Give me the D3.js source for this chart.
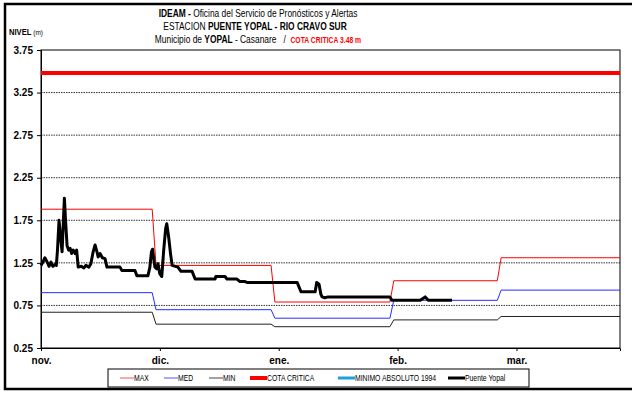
<!DOCTYPE html>
<html><head><meta charset="utf-8">
<script src="https://cdn.jsdelivr.net/npm/d3@7"></script>
<style>body{margin:0;background:#fff}svg{display:block}text{white-space:pre}</style>
</head><body><svg width="632" height="394"></svg>
<script>
// Eje X: días desde el 1 de noviembre; marcas cada 31 días
const tickDias = [0, 31, 62, 93, 124];
const tickMeses = ["nov.", "dic.", "ene.", "feb.", "mar."];
const yTicks = [0.25, 0.75, 1.25, 1.75, 2.25, 2.75, 3.25, 3.75];

// Niveles mensuales históricos (nov–mar)
const inicioMes = [0, 30, 61, 92, 120];
const finMes = [29, 60, 91, 119, 151];
const nivelMax = [1.88, 1.22, 0.79, 1.04, 1.31];
const nivelMed = [0.90, 0.70, 0.60, 0.81, 0.93];
const nivelMin = [0.67, 0.53, 0.50, 0.58, 0.62];
const cotaCritica = 3.48;

// Lecturas de la estación Puente Yopal
const diasYopal = [0.0,0.5,1.0,1.6,2.1,2.6,3.1,3.6,4.0,4.3,4.7,5.0,5.5,5.8,6.1,6.4,6.8,7.2,7.6,8.0,8.4,8.9,9.3,9.7,10.5,11.2,11.7,12.5,13.0,13.6,14.1,14.6,14.9,15.4,16.0,16.7,17.2,20.6,21.1,24.5,25.0,27.9,28.4,28.8,29.1,29.4,29.7,30.2,30.5,31.0,31.5,32.0,32.5,32.8,33.3,33.8,34.2,35.7,36.5,39.4,40.2,45.4,45.6,48.0,48.5,51.1,51.9,53.2,53.7,66.8,67.8,71.5,71.9,72.5,73.0,73.3,74.0,74.9,91.0,91.5,98.9,100.2,101.0,107.2];
const nivelYopal = [1.22,1.26,1.31,1.26,1.21,1.26,1.21,1.23,1.22,1.40,1.75,1.60,1.38,1.70,2.01,1.75,1.45,1.40,1.42,1.36,1.40,1.36,1.40,1.20,1.21,1.19,1.22,1.20,1.24,1.38,1.46,1.38,1.32,1.36,1.31,1.30,1.20,1.20,1.16,1.16,1.10,1.10,1.20,1.38,1.41,1.30,1.20,1.18,1.24,1.12,1.09,1.40,1.65,1.71,1.55,1.35,1.22,1.20,1.15,1.15,1.06,1.06,1.09,1.09,1.06,1.06,1.03,1.03,1.02,1.02,0.91,0.91,1.02,1.00,0.88,0.85,0.84,0.85,0.85,0.81,0.81,0.85,0.81,0.81];

const svg = d3.select("svg");
const FONT = "'Liberation Sans', Arial, sans-serif";

const L = 41, R = 620, T = 50, B = 348;
const x = d3.scaleLinear().domain([0, 151]).range([L, R]);
const y = d3.scaleLinear().domain([0.25, 3.75]).range([B, T]);

// Texto condensado horizontalmente (estilo Arial Narrow)
function texto(px, py, k, size, anchor) {
  return svg.append("text")
    .attr("transform", `translate(${px},${py}) scale(${k},1)`)
    .attr("text-anchor", anchor || "start")
    .attr("font-family", FONT).attr("font-size", size);
}

// Marco exterior
svg.append("rect").attr("x", 5).attr("y", 4).attr("width", 700).attr("height", 385)
  .attr("fill", "none").attr("stroke", "#000").attr("stroke-width", 2.5);

// Rejilla punteada
svg.append("g").selectAll("line").data(yTicks.slice(1, -1)).join("line")
  .attr("x1", L).attr("x2", R).attr("y1", d => y(d)).attr("y2", d => y(d))
  .attr("stroke", "#333").attr("stroke-width", 1).attr("stroke-dasharray", "1.5,1");

// Borde del área de trazado
svg.append("rect").attr("x", L).attr("y", T).attr("width", R - L).attr("height", B - T)
  .attr("fill", "none").attr("stroke", "#000").attr("stroke-width", 1);

// Eje Y
const yAxis = svg.append("g").attr("transform", `translate(${L},0)`)
  .call(d3.axisLeft(y).tickValues(yTicks).tickFormat(d3.format(".2f")).tickSize(4).tickPadding(4));
yAxis.select(".domain").attr("stroke", "#000");
yAxis.selectAll("text").attr("font-family", FONT).attr("font-size", 10).attr("font-weight", "bold").attr("fill", "#000");

// Eje X
const xAxis = svg.append("g").attr("transform", `translate(0,${B})`)
  .call(d3.axisBottom(x).tickValues(tickDias).tickFormat((d, i) => tickMeses[i]).tickSize(3).tickPadding(6));
xAxis.select(".domain").attr("stroke", "#000");
xAxis.selectAll("text").attr("font-family", FONT).attr("font-size", 10).attr("font-weight", "bold").attr("fill", "#000");

// Series mensuales escalonadas
function escalones(vals) {
  const pts = [];
  vals.forEach((v, i) => { pts.push([inicioMes[i], v]); pts.push([finMes[i], v]); });
  return pts;
}
const linea = d3.line().x(d => x(d[0])).y(d => y(d[1]));
svg.append("path").attr("d", linea(escalones(nivelMin))).attr("fill", "none").attr("stroke", "#222").attr("stroke-width", 1);
svg.append("path").attr("d", linea(escalones(nivelMed))).attr("fill", "none").attr("stroke", "#2a2aff").attr("stroke-width", 1);
svg.append("path").attr("d", linea(escalones(nivelMax))).attr("fill", "none").attr("stroke", "#ff0000").attr("stroke-width", 1);

// Cota crítica
svg.append("path").attr("d", linea([[0, cotaCritica], [151, cotaCritica]]))
  .attr("fill", "none").attr("stroke", "#ff0000").attr("stroke-width", 4);

// Puente Yopal
svg.append("path").attr("d", linea(diasYopal.map((d, i) => [d, nivelYopal[i]])))
  .attr("fill", "none").attr("stroke", "#000").attr("stroke-width", 3).attr("stroke-linejoin", "round");

// Títulos
const t1 = texto(258, 17, 0.8, 10.5, "middle");
t1.append("tspan").attr("font-weight", "bold").text("IDEAM - ");
t1.append("tspan").text("Oficina del Servicio de Pronósticos y Alertas");
const t2 = texto(255, 30, 0.8, 10.5, "middle");
t2.append("tspan").text("ESTACION ");
t2.append("tspan").attr("font-weight", "bold").text("PUENTE YOPAL - RIO CRAVO SUR");
const t3 = texto(258, 43, 0.8, 10.5, "middle");
t3.append("tspan").text("Municipio de ");
t3.append("tspan").attr("font-weight", "bold").text("YOPAL");
t3.append("tspan").text(" - Casanare   /  ");
t3.append("tspan").attr("font-weight", "bold").attr("fill", "#ff0000").attr("font-size", 8.5).text("COTA CRITICA 3.48 m");

const nv = texto(9, 35, 0.8, 9.5);
nv.append("tspan").attr("font-weight", "bold").text("NIVEL ");
nv.append("tspan").attr("font-size", 8).text("(m)");

// Leyenda
const leyenda = [
  { nombre: "MAX", color: "#ff5050", ancho: 1, x: 120, w: 14 },
  { nombre: "MED", color: "#5050ff", ancho: 1, x: 164, w: 14 },
  { nombre: "MIN", color: "#444", ancho: 1, x: 209, w: 14 },
  { nombre: "COTA CRITICA", color: "#ff0000", ancho: 4, x: 250, w: 17 },
  { nombre: "MINIMO ABSOLUTO 1994", color: "#1ea0e0", ancho: 3, x: 338, w: 17 },
  { nombre: "Puente Yopal", color: "#000", ancho: 3, x: 448, w: 17 }
];
svg.append("rect").attr("x", 108).attr("y", 369).attr("width", 421).attr("height", 18)
  .attr("fill", "#fff").attr("stroke", "#000").attr("stroke-width", 1);
const li = svg.append("g").selectAll("g").data(leyenda).join("g");
li.append("line").attr("x1", d => d.x).attr("x2", d => d.x + d.w).attr("y1", 378).attr("y2", 378)
  .attr("stroke", d => d.color).attr("stroke-width", d => d.ancho);
li.append("text")
  .attr("transform", d => `translate(${d.x + d.w},381) scale(0.76,1)`)
  .attr("font-family", FONT).attr("font-size", 9)
  .text(d => d.nombre);
</script>
</body></html>
